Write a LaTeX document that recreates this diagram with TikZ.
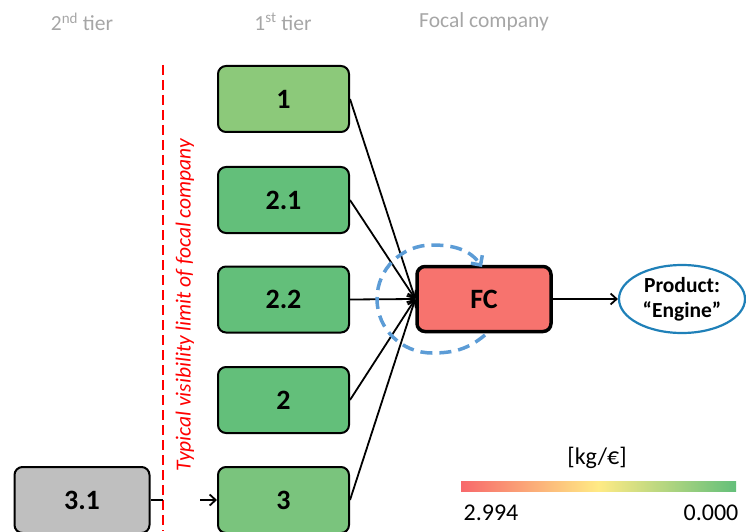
\documentclass[tikz,border=0pt]{standalone}
\usepackage{fontspec}
\setmainfont{Carlito}
\usetikzlibrary{arrows.meta,shapes.geometric}
\definecolor{grayt}{rgb}{0.65,0.65,0.65}
\definecolor{green1}{rgb}{0.55,0.79,0.48}
\definecolor{green2}{rgb}{0.39,0.75,0.48}
\definecolor{green3}{rgb}{0.48,0.77,0.49}
\definecolor{gray31}{rgb}{0.75,0.75,0.75}
\definecolor{redfc}{rgb}{0.97,0.45,0.43}
\definecolor{blueprod}{rgb}{0.12,0.5,0.72}
\definecolor{blueloop}{rgb}{0.36,0.61,0.84}
\definecolor{scred}{rgb}{0.97,0.41,0.42}
\definecolor{scyellow}{rgb}{1,0.92,0.52}
\definecolor{scgreen}{rgb}{0.39,0.75,0.48}

\begin{document}
\begin{tikzpicture}[x=1pt,y=1pt,
  tierbox/.style={draw, line width=2pt, rounded corners=8pt, minimum width=131pt,
    minimum height=66pt, font=\fontsize{28}{30}\selectfont\bfseries},
  head/.style={text=grayt, font=\fontsize{21.5}{24}\selectfont},
  link/.style={line width=1.8pt, -{Straight Barb[length=6pt,width=11pt]}},
  legend/.style={font=\fontsize{24}{28}\selectfont}]
\useasboundingbox (0,0) rectangle (746,531);
% column heads
\node[head] (h2) at (82,509) {2\textsuperscript{nd} tier};
\node[head] (h1) at (283,509) {1\textsuperscript{st} tier};
\node[head] (hfc) at (484,509) {Focal company};
% visibility limit
\draw[red, line width=2.5pt, dash pattern=on 10pt off 5pt] (163,466) -- (163,0);
\node[rotate=90, text=red, font=\fontsize{21.5}{24}\selectfont\itshape] (lim) at (185,226)
  {Typical visibility limit of focal company};
% suppliers
\node[tierbox, fill=green1] (t1) at (283.5,432) {1};
\node[tierbox, fill=green2] (t21) at (283.5,331) {2.1};
\node[tierbox, fill=green2] (t22) at (283.5,231.5) {2.2};
\node[tierbox, fill=green2] (t2) at (283.5,131) {2};
\node[tierbox, fill=green3] (t3) at (283.5,31) {3};
\node[tierbox, fill=gray31, minimum width=135pt] (s31) at (82,31) {3.1};
% focal company and product
\node[tierbox, fill=redfc, line width=3.5pt, minimum width=134pt, minimum height=65pt] (fc) at (484,232) {FC};
\node[ellipse, draw=blueprod, line width=2.2pt, minimum width=126pt, minimum height=68pt,
  inner sep=0pt, align=center, font=\fontsize{21.5}{25}\selectfont\bfseries] (prod) at (682,232)
  {Product:\\``Engine''};
% links
\foreach \s in {t1,t21,t22,t2,t3}
  \draw[link] (\s.east) -- (fc.west);
\draw[link] (fc.east) -- (prod.west);
\coordinate (cut) at (163,31);
\coordinate (back) at (200,31);
\draw[line width=1.8pt] (s31.east) -- (cut);
\draw[link] (back) -- (t3.west);
% own loop
\draw[blueloop, line width=3.5pt, dash pattern=on 12pt off 7pt, -{Straight Barb[length=7pt,width=14pt]}]
  (485,196) to[out=-140, in=0] (432,178) to[out=180, in=-90] (377,232)
  to[out=90, in=180] (432,286) to[out=0, in=125] (482,264);
% colour scale
\shade[left color=scred, right color=scgreen, middle color=scyellow] (461,40) rectangle (736,50);
\node[legend] (unit) at (597,73) {[kg/€]};
\node[legend] (vmax) at (491,18) {2.994};
\node[legend] (vmin) at (711,18) {0.000};
\end{tikzpicture}
\end{document}
